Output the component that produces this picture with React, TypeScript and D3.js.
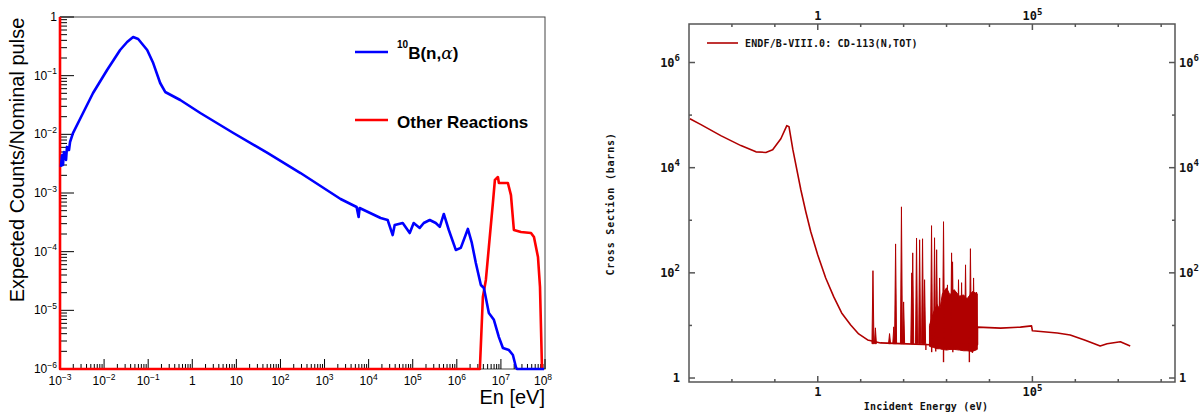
import React from "react";
import * as d3 from "d3";

const W = 1203;
const H = 412;

// ---------------- Left panel data ----------------
const blueE = [1.05e-3, 1.11e-3, 1.17e-3, 1.23e-3, 1.37e-3, 1.44e-3, 1.6e-3, 1.69e-3, 1.97e-3, 3.33e-3, 5.62e-3, 1.17e-2, 2.31e-2, 3.33e-2, 4.56e-2, 5.93e-2, 9.49e-2, 0.13, 0.187, 0.243, 0.533, 1.52, 8.55, 50.7, 285, 2310, 5330, 5930, 6240, 1.87e4, 2.7e4, 3.51e4, 3.9e4, 5.93e4, 8.55e4, 1.05e5, 1.44e5, 1.78e5, 2.43e5, 3.33e5, 4.11e5, 5.07e5, 6.58e5, 9.49e5, 1.23e6, 1.78e6, 2.19e6, 2.7e6, 3.51e6, 4.11e6, 5.33e6, 6.93e6, 9.0e6, 1.11e7, 1.52e7, 1.87e7, 2.19e7, 2.31e7, 9.5e7];
const blueV = [2.8e-3, 4.4e-3, 3.0e-3, 5.0e-3, 3.65e-3, 6.1e-3, 5.4e-3, 7.4e-3, 1.05e-2, 2.31e-2, 5.07e-2, 0.125, 0.274, 0.375, 0.456, 0.422, 0.274, 0.164, 0.075, 0.0527, 0.0385, 0.0231, 0.01054, 4.81e-3, 2.19e-3, 7.9e-4, 5.78e-4, 3.9e-4, 5.56e-4, 3.75e-4, 3.47e-4, 1.92e-4, 2.85e-4, 3.08e-4, 2.08e-4, 3.08e-4, 2.54e-4, 3.08e-4, 3.47e-4, 3.08e-4, 2.64e-4, 4.39e-4, 2.34e-4, 1.07e-4, 1.16e-4, 2.44e-4, 1.41e-4, 6.4e-5, 2.7e-5, 2.4e-5, 9.0e-6, 6.9e-6, 3.5e-6, 2.28e-6, 2.1e-6, 1.73e-6, 1.08e-6, 1e-6, 1e-6];
const redE = [1e-3, 1e-3, 3.33e6, 3.9e6, 4.56e6, 5.33e6, 6.58e6, 7.31e6, 8.55e6, 9.0e6, 1.44e7, 1.69e7, 1.97e7, 2.85e7, 4.81e7, 5.62e7, 6.93e7, 7.7e7, 8.55e7];
const redV = [1, 1e-6, 1e-6, 1.69e-5, 3.29e-5, 1.2e-4, 6.76e-4, 1.67e-3, 1.87e-3, 1.48e-3, 1.48e-3, 9.2e-4, 2.34e-4, 2.16e-4, 2.08e-4, 1.78e-4, 8.1e-5, 2.5e-5, 1e-6];
const leftXDecades = [-3, -2, -1, 0, 1, 2, 3, 4, 5, 6, 7, 8];
const leftYDecades = [-6, -5, -4, -3, -2, -1, 0];
const legendLabels = ["B(n,", "Other Reactions"];

// ---------------- Right panel data ----------------
const cdE = [1.05e-3, 1.9e-3, 5.5e-3, 1.62e-2, 3.63e-2, 6.17e-2, 8.9e-2, 0.138, 0.19, 0.214, 0.263, 0.403, 0.526, 0.687, 1.0, 1.53, 2.36, 3.6, 5.85, 8.97, 14.5, 29, 85, 427, 5250, 5260, 1.82e4, 5.25e4, 9.55e4, 1.0e5, 3.8e5, 7.6e5, 1.7e6, 3.8e6, 5.5e6, 1.12e7, 1.9e7];
const cdS = [8.5e4, 6.6e4, 4.07e4, 2.63e4, 2.0e4, 1.95e4, 2.19e4, 3.55e4, 6.3e4, 6.0e4, 2.2e4, 3.8e3, 1.45e3, 603, 219, 80, 34.9, 17.3, 10.2, 6.9, 5.3, 4.65, 4.5, 4.3, 4.3, 9.3, 8.9, 9.3, 9.8, 7.9, 7.2, 6.6, 5.25, 4.07, 4.47, 4.9, 4.07];
const spikeBase = 4.5;
const spikeE = [19.3, 22, 47, 59, 65, 89, 100, 155, 163, 200, 236, 276, 308, 447, 525, 588, 690, 850, 1050, 1310, 1380, 1900, 2240, 2770, 3600, 4260, 5000];
const spikePeak = [110, 9, 7, 9.4, 355, 1800, 28, 100, 240, 460, 425, 445, 74, 790, 465, 275, 80, 940, 59, 240, 162, 74, 65, 142, 288, 80, 43];
const bandE = [400, 500, 600, 700, 800, 1000, 1200, 1500, 2000, 2500, 3000, 4000, 5200];
const bandTop = [10, 18, 25, 20, 40, 52, 38, 48, 36, 38, 32, 44, 40];
const bandBottom = [4.0, 3.8, 3.6, 3.6, 3.5, 3.4, 3.5, 3.5, 3.4, 3.3, 3.3, 3.2, 3.5];
const dipE = [330, 450, 560, 850, 1400, 3400, 4000];
const dipS = [3.4, 3.1, 3.2, 2.0, 3.1, 2.0, 3.0];
const rightXMajor = [0, 5];
const rightXMinor = [-2, -1, 1, 2, 3, 4, 6, 7, 8];
const rightYMajor = [0, 2, 4, 6];
const rightYMinor = [1, 3, 5];
const rightLegend = "ENDF/B-VIII.0: CD-113(N,TOT)";

// ---------------- Scales ----------------
const xL = d3.scaleLog().domain([1e-3, 1e8]).range([60, 545]).clamp(true);
const yL = d3.scaleLog().domain([1e-6, 1]).range([369, 17]).clamp(true);
const xR = d3.scaleLog().domain([1e-3, 2.1e8]).range([689, 1175]);
const yR = d3.scaleLog().domain([0.84, 5.4e6]).range([382, 24]).clamp(true);

const SANS = "'Liberation Sans', Arial, Helvetica, sans-serif";
const MONO = "'DejaVu Sans Mono', 'Liberation Mono', monospace";
const CD = "#b00000";

function Pow({ x, y, exp, anchor, size, supSize, font, weight, fill, plainOne, plainTen }: any) {
  if (exp === 0 && plainOne) {
    return <text x={x} y={y} textAnchor={anchor} fontSize={size} fontFamily={font} fontWeight={weight} fill={fill}>1</text>;
  }
  if (exp === 1 && plainTen) {
    return <text x={x} y={y} textAnchor={anchor} fontSize={size} fontFamily={font} fontWeight={weight} fill={fill}>10</text>;
  }
  const e = exp < 0 ? "\u2212" + Math.abs(exp) : String(exp);
  return (
    <text x={x} y={y} textAnchor={anchor} fontSize={size} fontFamily={font} fontWeight={weight} fill={fill}>
      10<tspan fontSize={supSize} dy={-size * 0.45}>{e}</tspan>
    </text>
  );
}

function LeftPanel() {
  const line = d3.line<number>().x((i) => xL(blueE[i])).y((i) => yL(blueV[i]));
  const redLine = d3.line<number>().x((i) => xL(redE[i])).y((i) => yL(redV[i]));
  const minorX: number[] = [];
  leftXDecades.slice(0, -1).forEach((d) => { for (let k = 2; k <= 9; k++) minorX.push(k * Math.pow(10, d)); });
  const minorY: number[] = [];
  leftYDecades.slice(0, -1).forEach((d) => { for (let k = 2; k <= 9; k++) minorY.push(k * Math.pow(10, d)); });
  const x0 = 60, y0 = 369;
  return (
    <g>
      <rect x={60} y={17} width={485} height={352} fill="none" stroke="#444" strokeWidth={1} />
      {minorX.map((v, i) => (
        <line key={"mx" + i} x1={xL(v)} x2={xL(v)} y1={y0} y2={y0 - 5} stroke="#000" strokeWidth={1} />
      ))}
      {leftXDecades.map((d) => (
        <line key={"Mx" + d} x1={xL(Math.pow(10, d))} x2={xL(Math.pow(10, d))} y1={y0} y2={y0 - 10} stroke="#000" strokeWidth={1} />
      ))}
      {minorY.map((v, i) => (
        <line key={"my" + i} x1={x0} x2={x0 + 7} y1={yL(v)} y2={yL(v)} stroke="#000" strokeWidth={1} />
      ))}
      {leftYDecades.map((d) => (
        <line key={"My" + d} x1={x0} x2={x0 + 14} y1={yL(Math.pow(10, d))} y2={yL(Math.pow(10, d))} stroke="#000" strokeWidth={1} />
      ))}
      {leftXDecades.map((d) => (
        <Pow key={"lx" + d} x={xL(Math.pow(10, d)) - (d === 8 ? 2 : 0)} y={385} exp={d} anchor="middle" size={12} supSize={8.5} font={SANS} weight="normal" fill="#000" plainOne plainTen />
      ))}
      {leftYDecades.map((d) => (
        <Pow key={"ly" + d} x={57} y={yL(Math.pow(10, d)) + 4} exp={d} anchor="end" size={12} supSize={8.5} font={SANS} weight="normal" fill="#000" plainOne />
      ))}
      <path d={redLine(d3.range(redE.length)) || ""} fill="none" stroke="#ff0000" strokeWidth={2.6} strokeLinejoin="round" />
      <path d={line(d3.range(blueE.length)) || ""} fill="none" stroke="#0000ff" strokeWidth={2.6} strokeLinejoin="round" />
      <line x1={355} x2={388} y1={52} y2={52} stroke="#0000ff" strokeWidth={2.6} />
      <text x={397} y={59} fontFamily={SANS} fontWeight="bold" fontSize={17} fill="#000">
        <tspan fontSize={10} dy={-11}>10</tspan>
        <tspan dy={11}>{legendLabels[0]}</tspan>
        <tspan fontWeight="normal" fontFamily="'DejaVu Serif', serif" fontStyle="italic">α</tspan>
        <tspan>)</tspan>
      </text>
      <line x1={355} x2={388} y1={120} y2={120} stroke="#ff0000" strokeWidth={2.6} />
      <text x={397} y={128} fontFamily={SANS} fontWeight="bold" fontSize={17} fill="#000">{legendLabels[1]}</text>
      <text x={545} y={404} textAnchor="end" fontFamily={SANS} fontSize={20} fill="#000">En [eV]</text>
      <text transform="translate(24,160) rotate(-90)" textAnchor="middle" fontFamily={SANS} fontSize={20} fill="#000">Expected Counts/Nominal pulse</text>
    </g>
  );
}

function RightPanel() {
  const line = d3.line<number>().x((i) => xR(cdE[i])).y((i) => yR(cdS[i]));
  const area = d3.area<number>().x((i) => xR(bandE[i])).y0((i) => yR(bandBottom[i])).y1((i) => yR(bandTop[i]));
  const L = 689, R = 1175, T = 24, B = 382;
  return (
    <g>
      <rect x={L} y={T} width={R - L} height={B - T} fill="none" stroke="#555" strokeWidth={1.5} />
      {rightXMajor.map((d) => {
        const x = xR(Math.pow(10, d));
        return (
          <g key={"rxM" + d}>
            <line x1={x} x2={x} y1={B} y2={B - 6} stroke="#555" strokeWidth={1.5} />
            <line x1={x} x2={x} y1={T} y2={T + 6} stroke="#555" strokeWidth={1.5} />
            <Pow x={x} y={396} exp={d} anchor="middle" size={12} supSize={9} font={MONO} weight="bold" fill="#111" plainOne />
            <Pow x={x} y={20} exp={d} anchor="middle" size={12} supSize={9} font={MONO} weight="bold" fill="#111" plainOne />
          </g>
        );
      })}
      {rightXMinor.map((d) => {
        const x = xR(Math.pow(10, d));
        return (
          <g key={"rxm" + d}>
            <line x1={x} x2={x} y1={B} y2={B - 3} stroke="#555" strokeWidth={1.5} />
            <line x1={x} x2={x} y1={T} y2={T + 3} stroke="#555" strokeWidth={1.5} />
          </g>
        );
      })}
      {rightYMajor.map((d) => {
        const y = yR(Math.pow(10, d));
        return (
          <g key={"ryM" + d}>
            <line x1={L} x2={L + 6} y1={y} y2={y} stroke="#555" strokeWidth={1.5} />
            <line x1={R} x2={R - 6} y1={y} y2={y} stroke="#555" strokeWidth={1.5} />
            <Pow x={680} y={y + 4} exp={d} anchor="end" size={12} supSize={9} font={MONO} weight="bold" fill="#111" plainOne />
            <Pow x={1179} y={y + 4} exp={d} anchor="start" size={12} supSize={9} font={MONO} weight="bold" fill="#111" plainOne />
          </g>
        );
      })}
      {rightYMinor.map((d) => {
        const y = yR(Math.pow(10, d));
        return (
          <g key={"rym" + d}>
            <line x1={L} x2={L + 3} y1={y} y2={y} stroke="#555" strokeWidth={1.5} />
            <line x1={R} x2={R - 3} y1={y} y2={y} stroke="#555" strokeWidth={1.5} />
          </g>
        );
      })}
      <path d={area(d3.range(bandE.length)) || ""} fill={CD} stroke={CD} strokeWidth={1} />
      {spikeE.map((e, i) => {
        const x = xR(e);
        return (
          <path key={"sp" + i} d={`M${x - 1},${yR(spikeBase)}L${x},${yR(spikePeak[i])}L${x + 1},${yR(spikeBase)}Z`} fill={CD} stroke={CD} strokeWidth={1} strokeLinejoin="miter" />
        );
      })}
      {dipE.map((e, i) => (
        <line key={"dp" + i} x1={xR(e)} x2={xR(e)} y1={yR(spikeBase)} y2={yR(dipS[i])} stroke={CD} strokeWidth={1.4} />
      ))}
      <path d={line(d3.range(cdE.length)) || ""} fill="none" stroke={CD} strokeWidth={1.6} strokeLinejoin="round" />
      <line x1={707} x2={738} y1={43} y2={43} stroke={CD} strokeWidth={1.6} />
      <text x={745} y={47} fontFamily={MONO} fontWeight="bold" fontSize={10} letterSpacing={0.15} fill="#111">{rightLegend}</text>
      <text x={926} y={410} textAnchor="middle" fontFamily={MONO} fontWeight="bold" fontSize={10} letterSpacing={0.2} fill="#111">Incident Energy (eV)</text>
      <text transform="translate(614,204) rotate(-90)" textAnchor="middle" fontFamily={MONO} fontWeight="bold" fontSize={10} letterSpacing={0.8} fill="#111">Cross Section (barns)</text>
    </g>
  );
}

export default function App() {
  return (
    <svg width={W} height={H} style={{ position: "absolute", left: 0, top: 0, background: "#fff" }}>
      <rect x={0} y={0} width={W} height={H} fill="#fff" />
      <LeftPanel />
      <RightPanel />
    </svg>
  );
}
